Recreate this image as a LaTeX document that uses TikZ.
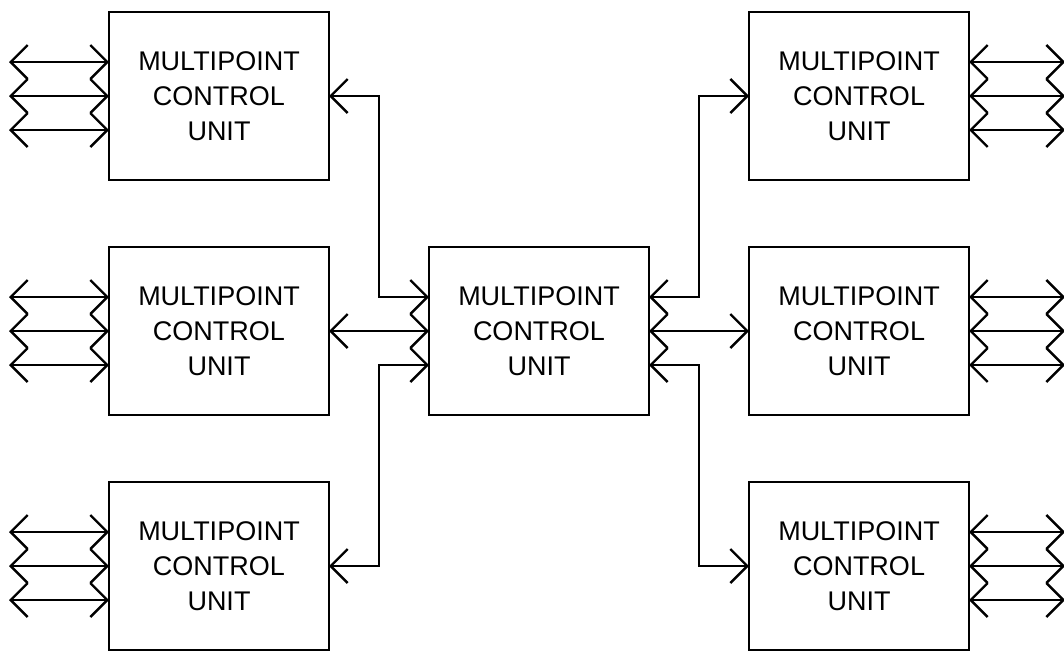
\documentclass[tikz,border=0pt]{standalone}
\usepackage{fontspec}
\setmainfont{Liberation Sans}
\usepackage{tikz}
\usetikzlibrary{positioning}
\usetikzlibrary{arrows.meta}

\begin{document}
\begin{tikzpicture}[
		unit/.style={draw, line width=1.4pt, minimum width=110pt, minimum height=84pt,
			align=center, inner sep=0pt, outer sep=0pt, font=\fontsize{13.5}{17.5}\selectfont},
		link/.style={line width=1.2pt, {Straight Barb[length=8.5pt,width=17pt]}-{Straight Barb[length=8.5pt,width=17pt]}}
	]
		\useasboundingbox (0,0) rectangle (532pt,-325pt);
		\node[unit] (mcu) at (269.5pt,-165.5pt) {MULTIPOINT\\CONTROL\\UNIT};
		\node[unit, left = 50pt of mcu] (mcul) {MULTIPOINT\\CONTROL\\UNIT};
		\node[unit, above = 33.5pt of mcul] (mcult) {MULTIPOINT\\CONTROL\\UNIT};
		\node[unit, below = 33.5pt of mcul] (mculb) {MULTIPOINT\\CONTROL\\UNIT};
		\node[unit, right = 50pt of mcu] (mcur) {MULTIPOINT\\CONTROL\\UNIT};
		\node[unit, above = 33.5pt of mcur] (mcurt) {MULTIPOINT\\CONTROL\\UNIT};
		\node[unit, below = 33.5pt of mcur] (mcurb) {MULTIPOINT\\CONTROL\\UNIT};
		% links to the central unit
		\draw[link] (mcult.east) -- ++(25pt,0) |- ([yshift=17pt]mcu.west);
		\draw[link] (mcul.east) -- (mcu.west);
		\draw[link] (mculb.east) -- ++(25pt,0) |- ([yshift=-17pt]mcu.west);
		\draw[link] (mcurt.west) -- ++(-25pt,0) |- ([yshift=17pt]mcu.east);
		\draw[link] (mcur.west) -- (mcu.east);
		\draw[link] (mcurb.west) -- ++(-25pt,0) |- ([yshift=-17pt]mcu.east);
		% outer lines
		\foreach \u in {mcult, mcul, mculb} {
			\foreach \s in {17pt, 0pt, -17pt}
				\draw[link] ([yshift=\s]\u.west) -- ++(-50pt,0);
		}
		\foreach \u in {mcurt, mcur, mcurb} {
			\foreach \s in {17pt, 0pt, -17pt}
				\draw[link] ([yshift=\s]\u.east) -- ++(48pt,0);
		}
	\end{tikzpicture}
\end{document}
